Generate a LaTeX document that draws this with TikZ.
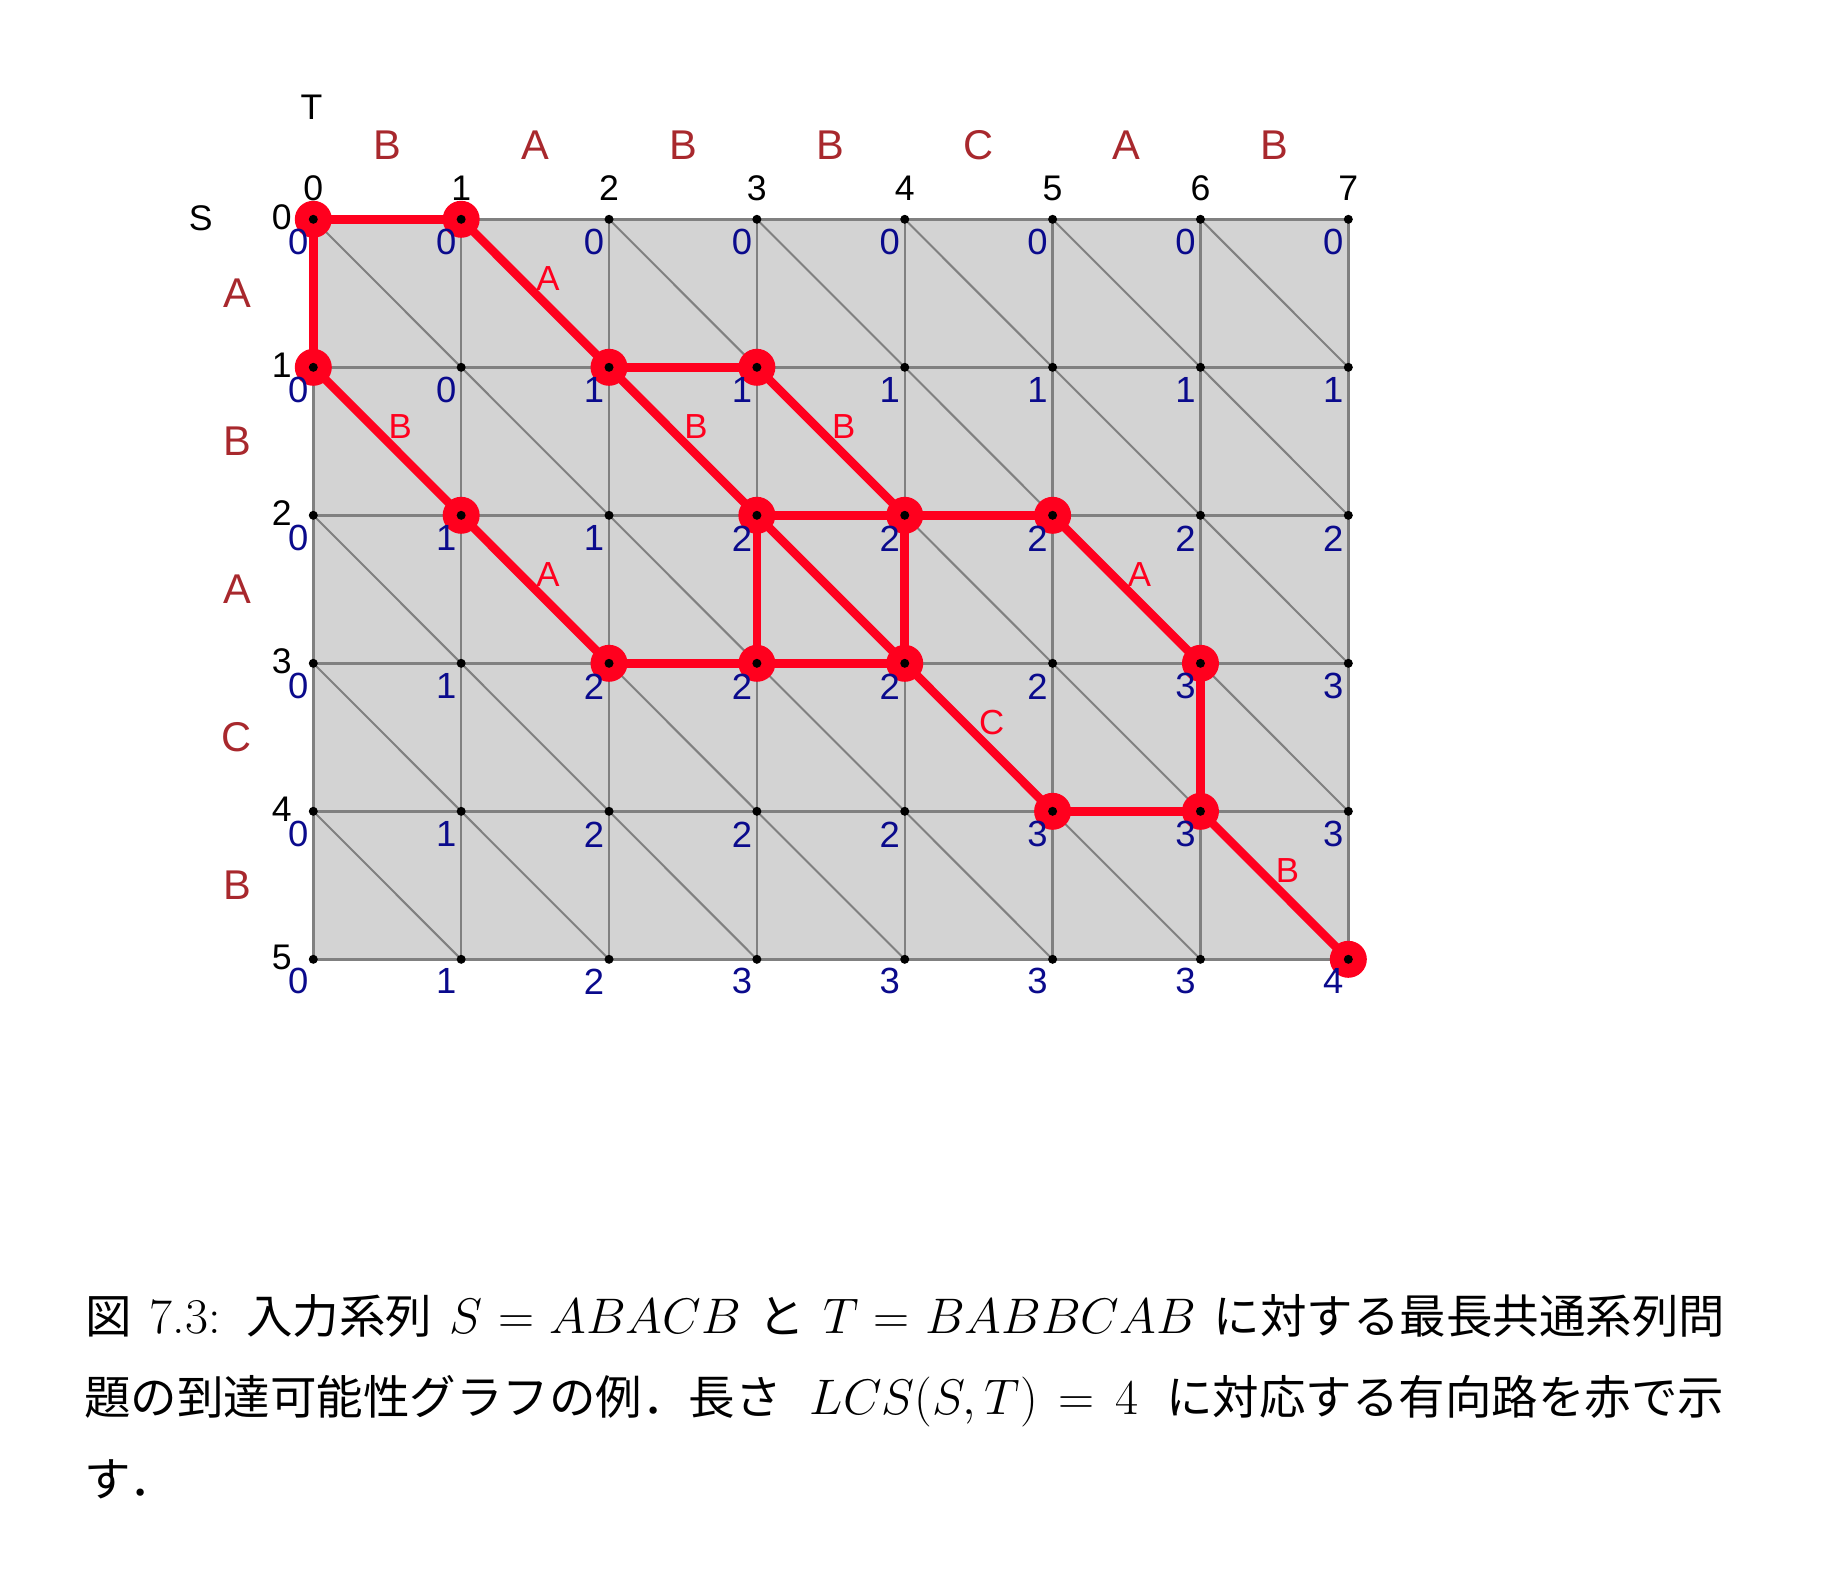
\RequirePackage{fix-cm}
\documentclass[tikz,border=0pt]{standalone}
\usepackage{fontspec}
\usetikzlibrary{calc}
\newfontfamily\arialf{Liberation Sans}
\newfontfamily\jpf[Scale=0.93]{Noto Sans CJK JP}
\newmuskip\captthick
\captthick=5mu plus 1.5mu minus 1mu
\definecolor{gridfill}{RGB}{211,211,211}
\definecolor{gridline}{RGB}{128,128,128}
\definecolor{pathred}{RGB}{255,0,30}
\definecolor{letterred}{RGB}{168,40,45}
\definecolor{numblue}{RGB}{10,10,140}
\tikzset{
  bigdot/.style={circle,fill=pathred,inner sep=0pt,minimum size=18.5pt},
  smalldot/.style={circle,fill=black,inner sep=0pt,minimum size=4.5pt},
  gridln/.style={draw=gridline,line width=1.2pt},
  diagln/.style={draw=gridline,line width=1.0pt},
  redpath/.style={draw=pathred,line width=4.3pt},
  blacknum/.style={font=\arialf\fontsize{17.8}{17.8}\selectfont,text=black,inner sep=0pt},
  bluenum/.style={font=\arialf\fontsize{18.2}{18.2}\selectfont,text=numblue,inner sep=0pt},
  seqlet/.style={font=\arialf\fontsize{20.8}{20.8}\selectfont,text=letterred,inner sep=0pt},
  redlab/.style={font=\arialf\fontsize{17.4}{17.4}\selectfont,text=pathred,inner sep=0pt,xshift=6.5pt,yshift=7.5pt},
  axislab/.style={font=\arialf\fontsize{17.8}{17.8}\selectfont,text=black,inner sep=0pt},
  captext/.style={anchor=base west,inner sep=0pt,font=\fontsize{25}{25}\selectfont}
}
\begin{document}
\begin{tikzpicture}[x=0.5pt,y=-0.5pt]
\useasboundingbox (0,0) rectangle (1830,1574);
% vertices
\foreach \c in {0,...,7}{
  \foreach \r in {0,...,5}{
    \coordinate (v-\c-\r) at ({313.3+147.86*\c},{219.3+148*\r});
  }
}
% grid
\fill[gridfill] (v-0-0) rectangle (v-7-5);
\foreach \c in {0,...,7}{\draw[gridln] (v-\c-0) -- (v-\c-5);}
\foreach \r in {0,...,5}{\draw[gridln] (v-0-\r) -- (v-7-\r);}
\foreach \c [evaluate=\c as \d using int(\c+1)] in {0,...,6}{
  \foreach \r [evaluate=\r as \s using int(\r+1)] in {0,...,4}{
    \draw[diagln] (v-\c-\r) -- (v-\d-\s);
  }
}
% red path
\draw[redpath] (v-0-0) -- (v-1-0);
\draw[redpath] (v-0-0) -- (v-0-1);
\draw[redpath] (v-1-0) -- node[redlab]{A} (v-2-1);
\draw[redpath] (v-0-1) -- node[redlab]{B} (v-1-2);
\draw[redpath] (v-2-1) -- (v-3-1);
\draw[redpath] (v-2-1) -- node[redlab]{B} (v-3-2);
\draw[redpath] (v-3-1) -- node[redlab]{B} (v-4-2);
\draw[redpath] (v-1-2) -- node[redlab]{A} (v-2-3);
\draw[redpath] (v-3-2) -- (v-4-2);
\draw[redpath] (v-4-2) -- (v-5-2);
\draw[redpath] (v-3-2) -- (v-3-3);
\draw[redpath] (v-4-2) -- (v-4-3);
\draw[redpath] (v-3-2) -- (v-4-3);
\draw[redpath] (v-2-3) -- (v-3-3);
\draw[redpath] (v-3-3) -- (v-4-3);
\draw[redpath] (v-5-2) -- node[redlab]{A} (v-6-3);
\draw[redpath] (v-4-3) -- node[redlab]{C} (v-5-4);
\draw[redpath] (v-6-3) -- (v-6-4);
\draw[redpath] (v-5-4) -- (v-6-4);
\draw[redpath] (v-6-4) -- node[redlab]{B} (v-7-5);
% big red dots
\foreach \p in {0-0,1-0,0-1,2-1,3-1,1-2,3-2,4-2,5-2,2-3,3-3,4-3,6-3,5-4,6-4,7-5}{
  \node[bigdot] (r-\p) at (v-\p) {};
}
% small black dots
\foreach \c in {0,...,7}{
  \foreach \r in {0,...,5}{
    \node[smalldot] (d-\c-\r) at (v-\c-\r) {};
  }
}
% column and row indices
\foreach \c in {0,...,7}{\node[blacknum] (ct-\c) at ($(v-\c-0)+(0,-31)$) {\c};}
\foreach \r in {0,...,5}{\node[blacknum] (rt-\r) at ($(v-0-\r)+(-31.6,-2)$) {\r};}
% sequence letters
\foreach \l [count=\i from 0] in {B,A,B,B,C,A,B}{
  \node[seqlet] (tl-\i) at ({313.3+147.86*(\i+0.5)},144.7) {\l};
}
\foreach \l [count=\i from 0] in {A,B,A,C,B}{
  \node[seqlet] (sl-\i) at (237,{219.3+148*(\i+0.5)}) {\l};
}
\node[axislab] (T) at (311.6,107.4) {T};
\node[axislab] (S) at (200.7,218) {S};
% DP values
\foreach \v [count=\c from 0] in {0,0,0,0,0,0,0,0}{\node[bluenum] (b-\c-0) at ($(v-\c-0)+(-15,23)$) {\v};}
\foreach \v [count=\c from 0] in {0,0,1,1,1,1,1,1}{\node[bluenum] (b-\c-1) at ($(v-\c-1)+(-15,23)$) {\v};}
\foreach \v [count=\c from 0] in {0,1,1,2,2,2,2,2}{\node[bluenum] (b-\c-2) at ($(v-\c-2)+(-15,23)$) {\v};}
\foreach \v [count=\c from 0] in {0,1,2,2,2,2,3,3}{\node[bluenum] (b-\c-3) at ($(v-\c-3)+(-15,23)$) {\v};}
\foreach \v [count=\c from 0] in {0,1,2,2,2,3,3,3}{\node[bluenum] (b-\c-4) at ($(v-\c-4)+(-15,23)$) {\v};}
\foreach \v [count=\c from 0] in {0,1,2,3,3,3,3,4}{\node[bluenum] (b-\c-5) at ($(v-\c-5)+(-15,22)$) {\v};}
% caption
\node[captext] (cap1) at (85,1333) {\thickmuskip=\captthick\makebox[820pt][s]{{\jpf 図} 7.3: {\jpf 入力系列} $S=ABACB$ {\jpf と} $T=BABBCAB$ {\jpf に対する最長共通系列問}}};
\node[captext] (cap2) at (84,1414) {\thickmuskip=\captthick\makebox[820pt][s]{{\jpf 題の到達可能性グラフの例．長さ} $LCS(S,T)=4$ {\jpf に対応する有向路を赤で示}}};
\node[captext] (cap3) at (84,1496) {{\jpf す．}};
\end{tikzpicture}
\end{document}
